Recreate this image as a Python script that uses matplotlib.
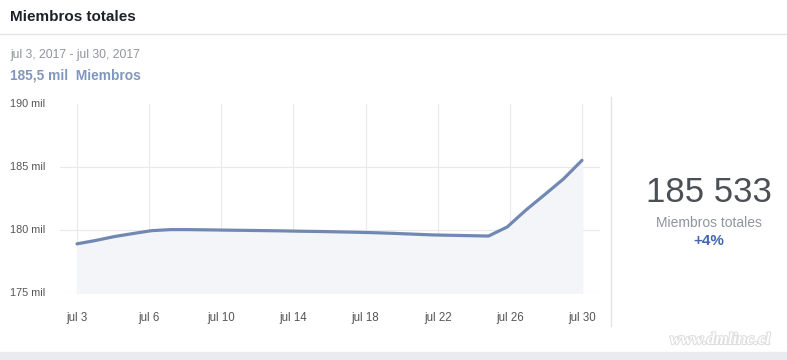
import numpy as np
import matplotlib
matplotlib.use('Agg')
import matplotlib.pyplot as plt
import matplotlib.patheffects as pe

plt.rcParams['font.family'] = ['Liberation Sans', 'DejaVu Sans']

# daily members (thousands), jul 3 .. jul 30
miembros = [178.9, 179.17, 179.48, 179.72, 179.95, 180.03, 180.03, 180.01,
            179.99, 179.97, 179.95, 179.93, 179.9, 179.88, 179.85, 179.82,
            179.78, 179.73, 179.67, 179.61, 179.58, 179.55, 179.52, 180.24,
            181.58, 182.8, 184.04, 185.53]
tick_labels = ['jul 3', 'jul 6', 'jul 10', 'jul 14', 'jul 18', 'jul 22', 'jul 26', 'jul 30']
y_ticks = [175, 180, 185, 190]
y_labels = ['175 mil', '180 mil', '185 mil', '190 mil']

W, H = 787, 360
fig = plt.figure(figsize=(W / 100, H / 100), dpi=100)
fig.patch.set_facecolor('white')

# header
fig.text(10 / W, 1 - 17 / H, 'Miembros totales', fontsize=11, fontweight='bold',
         color='#1d2129', va='center', ha='left')
fig.add_artist(plt.Line2D([0, 1], [1 - 34 / H, 1 - 34 / H], color='#e5e5e5', lw=1))
fig.text(10 / W, 1 - 55 / H, 'jul 3, 2017 - jul 30, 2017', fontsize=8.7,
         color='#90949c', va='center', ha='left')
fig.text(10 / W, 1 - 76 / H, '185,5 mil  Miembros', fontsize=9.9, fontweight='bold',
         color='#7f97bd', va='center', ha='left')

# plot area: x 60..600, y 104..293 px
ax = fig.add_axes([60 / W, 1 - 293 / H, 540 / W, 189 / H])
x = np.arange(len(miembros))
ax.plot(x, miembros, color='#7189b2', lw=2.3, solid_capstyle='round', zorder=3)
ax.fill_between(x, miembros, 175, color='#f4f5f9', zorder=1)

ax.set_xlim(-17 / 18.7, 27 + 18 / 18.7)
ax.set_ylim(175, 190)
xt = np.linspace(0, len(miembros) - 1, len(tick_labels))
ax.set_xticks(xt)
ax.set_xticklabels(tick_labels, fontsize=8.3, color='#555555')
ax.set_yticks(y_ticks)
ax.set_yticklabels([])
ax.tick_params(length=0, pad=14)
for v in xt:
    ax.axvline(v, color='#e9e9ec', lw=0.8, zorder=0)
for v in y_ticks[:-1]:
    ax.axhline(v, color='#e9e9ec', lw=0.8, zorder=0)
for s in ax.spines.values():
    s.set_visible(False)

# y labels placed at left edge of figure
for v, lab in zip(y_ticks, y_labels):
    yp = ax.transData.transform((0, v))[1] / H
    fig.text(10 / W, yp, lab, fontsize=7.8, color='#555555', va='center', ha='left')

# right panel
fig.add_artist(plt.Line2D([611 / W, 611 / W], [1 - 97 / H, 1 - 326 / H], color='#e5e5e5', lw=1))
fig.text(709 / W, 1 - 192 / H, '185 533', fontsize=25, color='#4b4f56',
         va='center', ha='center')
fig.text(709 / W, 1 - 223 / H, 'Miembros totales', fontsize=10, color='#90949c',
         va='center', ha='center')
fig.text(709 / W, 1 - 241 / H, '+4%', fontsize=11, fontweight='bold', color='#4267b2',
         va='center', ha='center')

# watermark and bottom band
fig.text(720 / W, 1 - 340 / H, 'www.dmlinc.cl', fontsize=12, style='italic',
         fontweight='bold', color='white', va='center', ha='center', family='Liberation Serif',
         path_effects=[pe.withStroke(linewidth=1.5, foreground='#dedede')])
fig.add_artist(plt.Rectangle((0, 0), 1, 8 / H, color='#e9ebee', transform=fig.transFigure))

fig.savefig('out.png', dpi=100)
